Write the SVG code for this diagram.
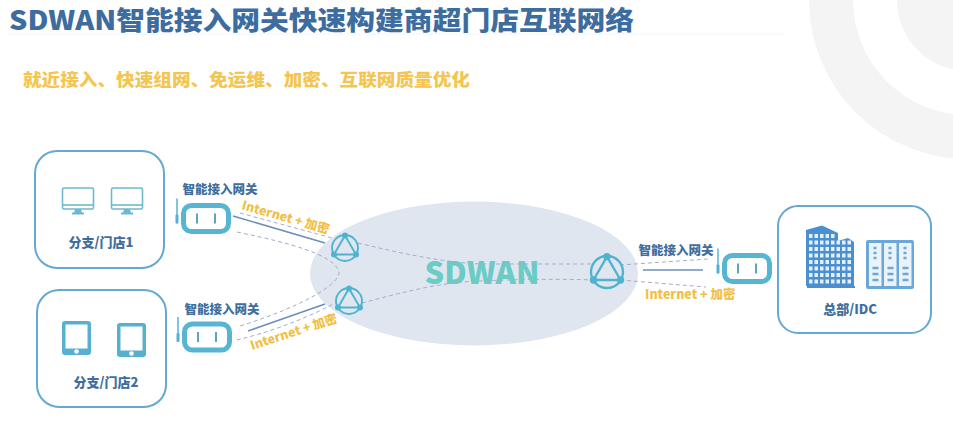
<svg xmlns="http://www.w3.org/2000/svg" width="953" height="424" viewBox="0 0 953 424">
<style>
text{font-family:"Noto Sans CJK SC","Noto Sans",sans-serif;font-weight:900}
.box{fill:#fff;stroke:#64a9d2;stroke-width:2}
.lbl{fill:#3f6f9f;font-size:12.5px;text-anchor:middle}
.gw{fill:#fff;stroke:#56b5d3;stroke-width:5}
.bar{stroke:#4a9cba;stroke-width:1.8;fill:none}
.ant{stroke:#56b5d3;stroke-width:1.5;fill:none}
.y{fill:#f2bf45;font-size:12.5px}
.dash{fill:none;stroke:#a3aecb;stroke-width:1;stroke-dasharray:4 3}
.solid{fill:none;stroke:#6e8fbc;stroke-width:1.6}
.ring{fill:none;stroke:#4fb3d0;stroke-width:1.9}
.dot{fill:#4fb3d0}
.ic{fill:#fff;stroke:#6fb9d0;stroke-width:1.6}
.tab{fill:#56b0cf}
.bld{fill:#4a8fd0}
</style>
<defs>
<g id="gateway">
<rect class="gw" x="-22.500" y="-13" width="45" height="26" rx="8"/>
<path class="bar" d="M-9-5V5M9-5V5"/>
<path class="ant" d="M-29-20V5"/><rect class="tab" x="-30.500" y="-4" width="3" height="9" rx="1"/>
</g>
<g id="monitor">
<rect class="ic" x="-15.500" y="-13" width="31" height="21" rx="1.500"/>
<path class="ic" d="M-15.500 4H15.500"/>
<path d="M-3 8H3L4 12H-4Z" fill="#6fb9d0"/><rect x="-6" y="11.500" width="12" height="2" fill="#6fb9d0"/>
</g>
<g id="tablet">
<rect x="-15" y="-17" width="29" height="34" rx="3" fill="#56b0cf"/>
<rect x="-11.500" y="-13.500" width="22" height="24" fill="#fff"/>
<circle cx="-.5" cy="13.500" r="2.300" fill="#fff"/>
</g>
<g id="tri">
<circle class="ring" r="13"/>
<path class="ring" d="M0-12.500L11 6.500H-11Z"/>
<circle class="dot" cy="-12.500" r="3"/><circle class="dot" cx="11" cy="6.500" r="3"/><circle class="dot" cx="-11" cy="6.500" r="3"/>
</g>
</defs>
<rect width="953" height="424" fill="#fff"/>
<g id="backdrop">
<circle cx="968" cy="0" r="137" fill="none" stroke="#f4f4f5" stroke-width="44"/>
<circle cx="968" cy="0" r="71" fill="#f4f4f5"/>
</g>
<g id="title">
<path d="M9 34H783" stroke="#f3f4f6" stroke-width="1"/>
<text x="9" y="30" font-size="26" fill="#3d6d9f" textLength="625" lengthAdjust="spacingAndGlyphs">SDWAN智能接入网关快速构建商超门店互联网络</text>
<text x="23" y="86" font-size="17" fill="#f4c550" textLength="447" lengthAdjust="spacingAndGlyphs">就近接入、快速组网、免运维、加密、互联网质量优化</text>
</g>
<g id="sdwan">
<ellipse cx="474" cy="273.500" rx="164" ry="72" fill="#dfe6f0"/>
<text x="482" y="284" font-size="31" fill="#6accc4" text-anchor="middle" textLength="115" lengthAdjust="spacingAndGlyphs">SDWAN</text>
</g>
<g id="connectors">
<path class="dash" d="M240 213L332 238"/>
<path class="dash" d="M237 232C290 243 335 255 339 272C340 285 300 307 240 326"/>
<path class="dash" d="M237 340C265 333 300 322 337 302"/>
<path class="dash" d="M358 243C400 253 440 262 480 264L595 264"/>
<path class="dash" d="M362 303C400 293 440 282 480 281C520 279 570 279 595 280"/>
<path class="dash" d="M620 265L708 259"/>
<path class="dash" d="M620 280L706 287"/>
<path class="solid" d="M233 216L325 243"/>
<path class="solid" d="M248 331L325 304"/>
<path class="solid" d="M643 270H703"/>
</g>
<g id="branch1">
<rect class="box" x="35" y="151" width="129" height="117" rx="22"/>
<use href="#monitor" x="78" y="201"/><use href="#monitor" x="127" y="201"/>
<text class="lbl" x="101" y="247" style="font-size:13px">分支/门店1</text>
</g>
<g id="branch2">
<rect class="box" x="37" y="290" width="129" height="117" rx="22"/>
<use href="#tablet" x="77" y="338"/><use href="#tablet" x="132" y="340"/>
<text class="lbl" x="106" y="387" style="font-size:13px">分支/门店2</text>
</g>
<g id="hq">
<rect class="box" x="778" y="206" width="153" height="127" rx="20"/>
<path class="bld" d="M806 286V230L822 225.500L838 233V241L848 238L854 242V286Z"/>
<path d="M807 287H855" stroke="#4a8fd0" stroke-width="2"/>
<path d="M809 236H835M809 242.500H851M809 249H851M809 255.500H851M809 262H851M809 268.500H851M809 275H851M809 281.500H851" stroke="#e4eff9" stroke-width="4" stroke-dasharray="3.500 2" fill="none"/>
<rect x="866" y="240" width="48" height="49" rx="2" fill="#6ba8d8"/>
<rect x="869" y="243" width="12.500" height="43" fill="#eaf3fa"/><rect x="884" y="243" width="12.500" height="43" fill="#eaf3fa"/><rect x="899" y="243" width="12.500" height="43" fill="#eaf3fa"/>
<path d="M873.500 248h3M873.500 253h3M873.500 258h3M888.500 248h3M888.500 253h3M888.500 258h3M903.500 248h3M903.500 253h3M903.500 258h3" stroke="#6ba8d8" stroke-width="2.500"/>
<path d="M872.500 268h6M872.500 274h6M872.500 280h6M887.500 268h6M887.500 274h6M887.500 280h6M902.500 268h6M902.500 274h6M902.500 280h6" stroke="#6ba8d8" stroke-width="2.500"/>
<text class="lbl" x="850" y="314" style="font-size:13px">总部/IDC</text>
</g>
<g id="gateway1">
<text class="lbl" x="220" y="194">智能接入网关</text>
<use href="#gateway" x="206" y="218.500"/>
</g>
<g id="gateway2">
<text class="lbl" x="222" y="314">智能接入网关</text>
<use href="#gateway" x="207" y="337"/>
</g>
<g id="gateway3">
<text class="lbl" x="676" y="255">智能接入网关</text>
<use href="#gateway" x="747" y="268.500"/>
</g>
<g id="tunnel1"><use href="#tri" x="345" y="248"/></g>
<g id="tunnel2"><use href="#tri" x="349" y="301"/></g>
<g id="tunnel3"><use href="#tri" transform="translate(607 272) scale(1.230)"/></g>
<g id="labels">
<text class="y" transform="translate(241 209) rotate(16)">Internet + 加密</text>
<text class="y" transform="translate(252 350) rotate(-18)">Internet + 加密</text>
<text class="y" x="645" y="299">Internet + 加密</text>
</g>
</svg>
